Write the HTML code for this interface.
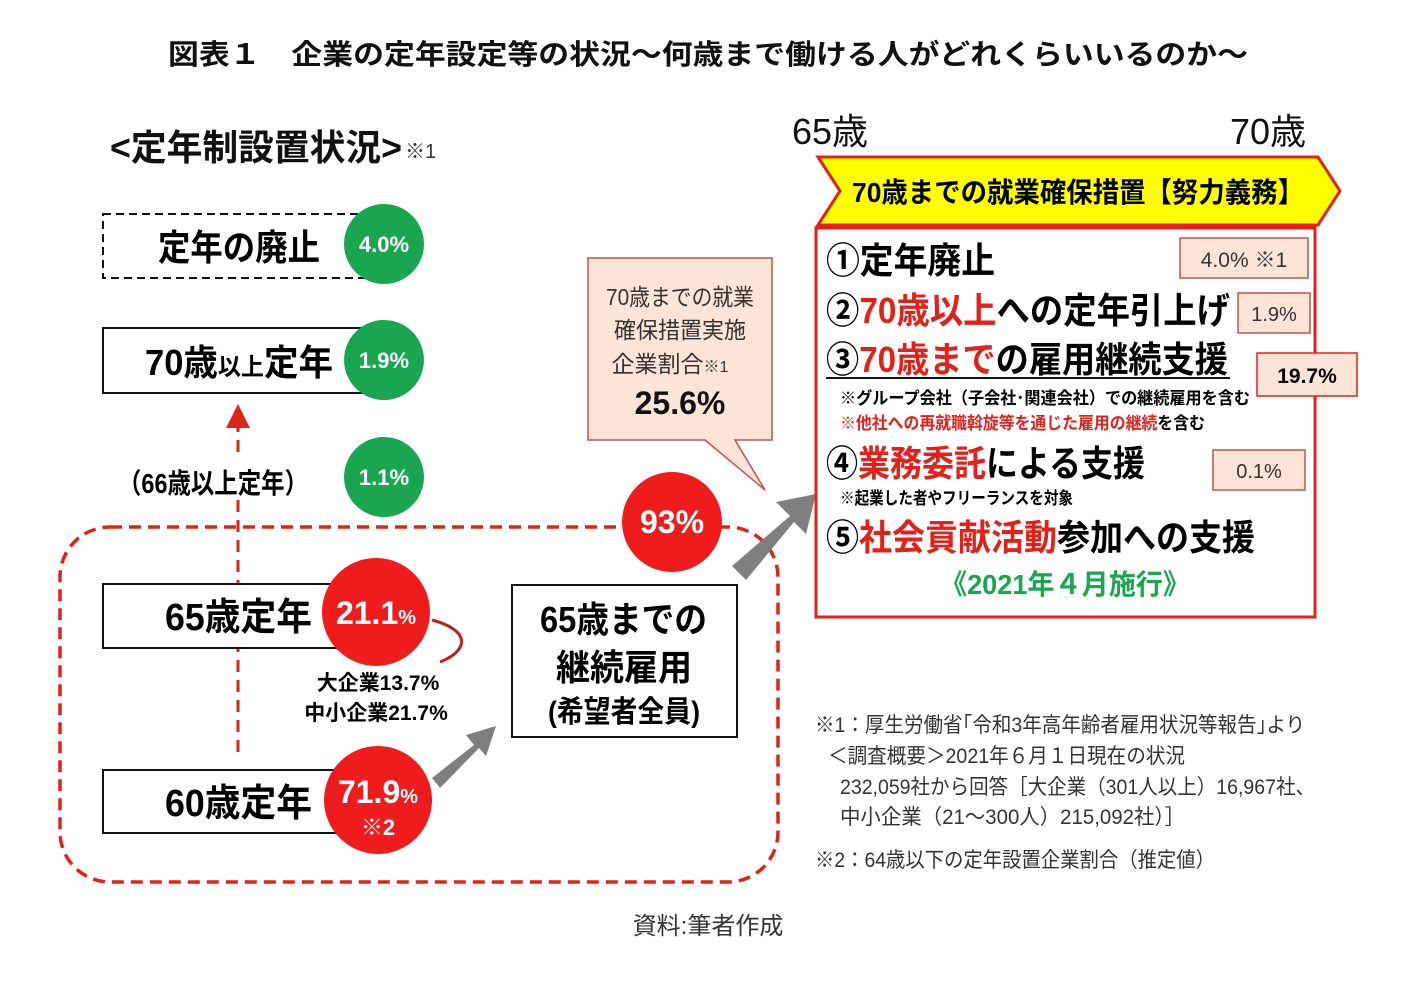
<!DOCTYPE html>
<html lang="ja"><head><meta charset="utf-8">
<style>
html,body{margin:0;padding:0;background:#fff;}
svg{display:block;font-family:"Liberation Sans","Noto Sans CJK JP",sans-serif;}
.b{font-weight:bold;}
</style></head>
<body>
<svg width="1415" height="983" viewBox="0 0 1415 983" xmlns="http://www.w3.org/2000/svg">
<defs>
<marker id="ah" markerWidth="8" markerHeight="8" refX="4" refY="4" orient="auto"><path d="M0,0 L8,4 L0,8 Z" fill="#d9261c"/></marker>
</defs>
<text x="168" y="64" textLength="1080" lengthAdjust="spacingAndGlyphs" font-size="28" class="b" fill="#111">図表１　企業の定年設定等の状況～何歳まで働ける人がどれくらいいるのか～</text>

<g>
<text x="110" y="160" textLength="292" lengthAdjust="spacingAndGlyphs" font-size="36" class="b" fill="#111">&lt;定年制設置状況&gt;</text>
<text x="405" y="158" font-size="20" fill="#333">※1</text>
</g>

<rect x="60" y="527" width="718" height="355" rx="50" fill="none" stroke="#e0221b" stroke-width="3.5" stroke-dasharray="12,7"/>
<line x1="238" y1="752" x2="238" y2="416" stroke="#e0221b" stroke-width="3" stroke-dasharray="12,8" marker-end="url(#ah)"/>

<g>
<rect x="103" y="214" width="275" height="64" fill="#fff" stroke="#111" stroke-width="2" stroke-dasharray="8,5"/>
<text x="158" y="260" textLength="162" lengthAdjust="spacingAndGlyphs" font-size="36" class="b">定年の廃止</text>
<circle cx="384" cy="244" r="40" fill="#1aa650"/>
<text x="384" y="252" text-anchor="middle" font-size="22" class="b" fill="#fff">4.0%</text>
</g>
<g>
<rect x="103" y="328" width="275" height="65" fill="#fff" stroke="#111" stroke-width="2"/>
<text x="145" y="375" font-size="36" class="b" textLength="188" lengthAdjust="spacingAndGlyphs">70歳<tspan font-size="24">以上</tspan>定年</text>
<circle cx="384" cy="360" r="40" fill="#1aa650"/>
<text x="384" y="368" text-anchor="middle" font-size="22" class="b" fill="#fff">1.9%</text>
</g>
<g>
<rect x="115" y="458" width="195" height="40" fill="#fff"/>
<text x="118" y="493" font-size="28" class="b" textLength="190" lengthAdjust="spacingAndGlyphs">（66歳以上定年）</text>
<circle cx="384" cy="477" r="40" fill="#1aa650"/>
<text x="384" y="485" text-anchor="middle" font-size="22" class="b" fill="#fff">1.1%</text>
</g>
<g>
<rect x="103" y="584" width="275" height="64" fill="#fff" stroke="#111" stroke-width="2"/>
<text x="165" y="630" textLength="147" lengthAdjust="spacingAndGlyphs" font-size="38" class="b">65歳定年</text>
<path d="M432,620 C470,630 470,650 440,662" fill="none" stroke="#c0201a" stroke-width="3"/>
<circle cx="376" cy="612" r="54" fill="#ee1c1c"/>
<text x="376" y="624" text-anchor="middle" font-size="32" class="b" fill="#fff">21.1<tspan font-size="20">%</tspan></text>
</g>
<text x="378" y="690" text-anchor="middle" font-size="21" class="b">大企業13.7%</text>
<text x="376" y="720" text-anchor="middle" font-size="21" class="b">中小企業21.7%</text>
<g>
<rect x="103" y="770" width="275" height="63" fill="#fff" stroke="#111" stroke-width="2"/>
<text x="165" y="816" textLength="147" lengthAdjust="spacingAndGlyphs" font-size="38" class="b">60歳定年</text>
<circle cx="378" cy="800" r="54" fill="#ee1c1c"/>
<text x="378" y="803" text-anchor="middle" font-size="32" class="b" fill="#fff">71.9<tspan font-size="20">%</tspan></text>
<text x="378" y="835" text-anchor="middle" font-size="22" class="b" fill="#fff">※2</text>
</g>
<path d="M432,778 L474,745 L466,735 L496,726 L486,756 L479,748 L440,788 Z" fill="#7f7f7f"/>
<g>
<rect x="512" y="585" width="225" height="152" fill="#fff" stroke="#111" stroke-width="2"/>
<text x="540" y="632" textLength="167" lengthAdjust="spacingAndGlyphs" font-size="36" class="b">65歳までの</text>
<text x="556" y="680" textLength="136" lengthAdjust="spacingAndGlyphs" font-size="36" class="b">継続雇用</text>
<text x="548" y="722" textLength="152" lengthAdjust="spacingAndGlyphs" font-size="30" class="b">(希望者全員)</text>
</g>
<g>
<circle cx="672" cy="522" r="50" fill="#ee1c1c"/>
<text x="672" y="533" text-anchor="middle" font-size="32" class="b" fill="#fff">93%</text>
</g>
<g>
<path d="M588,258 L772,258 L772,440 L735,440 L765,490 L705,440 L588,440 Z" fill="#fce4d6" stroke="#c0504d" stroke-width="1.5"/>
<text x="606" y="305" textLength="148" lengthAdjust="spacingAndGlyphs" font-size="23" fill="#333">70歳までの就業</text>
<text x="614" y="338" textLength="132" lengthAdjust="spacingAndGlyphs" font-size="23" fill="#333">確保措置実施</text>
<text x="670" y="372" text-anchor="middle" font-size="23" fill="#333">企業割合<tspan font-size="16">※1</tspan></text>
<text x="680" y="414" text-anchor="middle" font-size="32" class="b" fill="#111">25.6%</text>
</g>
<path d="M732,566 L790,516 L776,502 L816,494 L806,534 L794,522 L746,580 Z" fill="#7f7f7f"/>

<text x="792" y="144" font-size="36" fill="#111">65歳</text>
<text x="1230" y="144" font-size="36" fill="#111">70歳</text>
<g>
<path d="M818,157 L1318,157 L1340,191 L1318,225 L818,225 L840,191 Z" fill="#ffff00" stroke="#e0221b" stroke-width="3"/>
<text x="852" y="202" textLength="452" lengthAdjust="spacingAndGlyphs" font-size="28" class="b">70歳までの就業確保措置【努力義務】</text>
</g>
<g>
<rect x="816" y="228" width="499" height="389" fill="#fff" stroke="#e0221b" stroke-width="3"/>
<text x="826" y="273" textLength="169" lengthAdjust="spacingAndGlyphs" font-size="36" class="b">①定年廃止</text>
<rect x="1180" y="238" width="128" height="40" fill="#fce4d6" stroke="#c0504d" stroke-width="1.5"/>
<text x="1244" y="267" text-anchor="middle" font-size="21" fill="#333">4.0%  ※1</text>
<text x="826" y="323" textLength="404" lengthAdjust="spacingAndGlyphs" font-size="36" class="b">②<tspan fill="#e0221b">70歳以上</tspan>への定年引上げ</text>
<rect x="1238" y="293" width="72" height="40" fill="#fce4d6" stroke="#c0504d" stroke-width="1.5"/>
<text x="1274" y="321" text-anchor="middle" font-size="20" fill="#333">1.9%</text>
<text x="826" y="372" textLength="402" lengthAdjust="spacingAndGlyphs" font-size="36" class="b">③<tspan fill="#e0221b">70歳まで</tspan>の雇用継続支援</text>
<line x1="826" y1="378" x2="1230" y2="378" stroke="#111" stroke-width="2"/>
<rect x="1257" y="353" width="100" height="43" fill="#fce4d6" stroke="#e0221b" stroke-width="1.5"/>
<text x="1307" y="383" text-anchor="middle" font-size="21" class="b">19.7%</text>
<text x="840" y="404" textLength="410" lengthAdjust="spacingAndGlyphs" font-size="17" class="b">※グループ会社（子会社･関連会社）での継続雇用を含む</text>
<text x="840" y="429" textLength="365" lengthAdjust="spacingAndGlyphs" font-size="17" class="b"><tspan fill="#e0221b">※他社への再就職斡旋等を通じた雇用の継続</tspan>を含む</text>
<text x="826" y="476" textLength="319" lengthAdjust="spacingAndGlyphs" font-size="36" class="b">④<tspan fill="#e0221b">業務委託</tspan>による支援</text>
<rect x="1213" y="450" width="92" height="40" fill="#fce4d6" stroke="#c0504d" stroke-width="1.5"/>
<text x="1259" y="478" text-anchor="middle" font-size="20" fill="#333">0.1%</text>
<text x="840" y="504" textLength="233" lengthAdjust="spacingAndGlyphs" font-size="17" class="b">※起業した者やフリーランスを対象</text>
<text x="826" y="550" textLength="429" lengthAdjust="spacingAndGlyphs" font-size="36" class="b">⑤<tspan fill="#e0221b">社会貢献活動</tspan>参加への支援</text>
<text x="940" y="594" textLength="250" lengthAdjust="spacingAndGlyphs" font-size="28" class="b" fill="#1aa650">《2021年４月施行》</text>
</g>
<g font-size="21" fill="#333">
<text x="815" y="732" textLength="490" lengthAdjust="spacingAndGlyphs">※1：厚生労働省｢令和3年高年齢者雇用状況等報告｣より</text>
<text x="828" y="763" textLength="357" lengthAdjust="spacingAndGlyphs">＜調査概要＞2021年６月１日現在の状況</text>
<text x="840" y="794" textLength="475" lengthAdjust="spacingAndGlyphs">232,059社から回答［大企業（301人以上）16,967社、</text>
<text x="840" y="824" textLength="345" lengthAdjust="spacingAndGlyphs">中小企業（21～300人）215,092社）］</text>
<text x="815" y="867" textLength="400" lengthAdjust="spacingAndGlyphs">※2：64歳以下の定年設置企業割合（推定値）</text>
</g>
<text x="708" y="934" text-anchor="middle" font-size="24" fill="#333">資料:筆者作成</text>
</svg>
</body></html>
